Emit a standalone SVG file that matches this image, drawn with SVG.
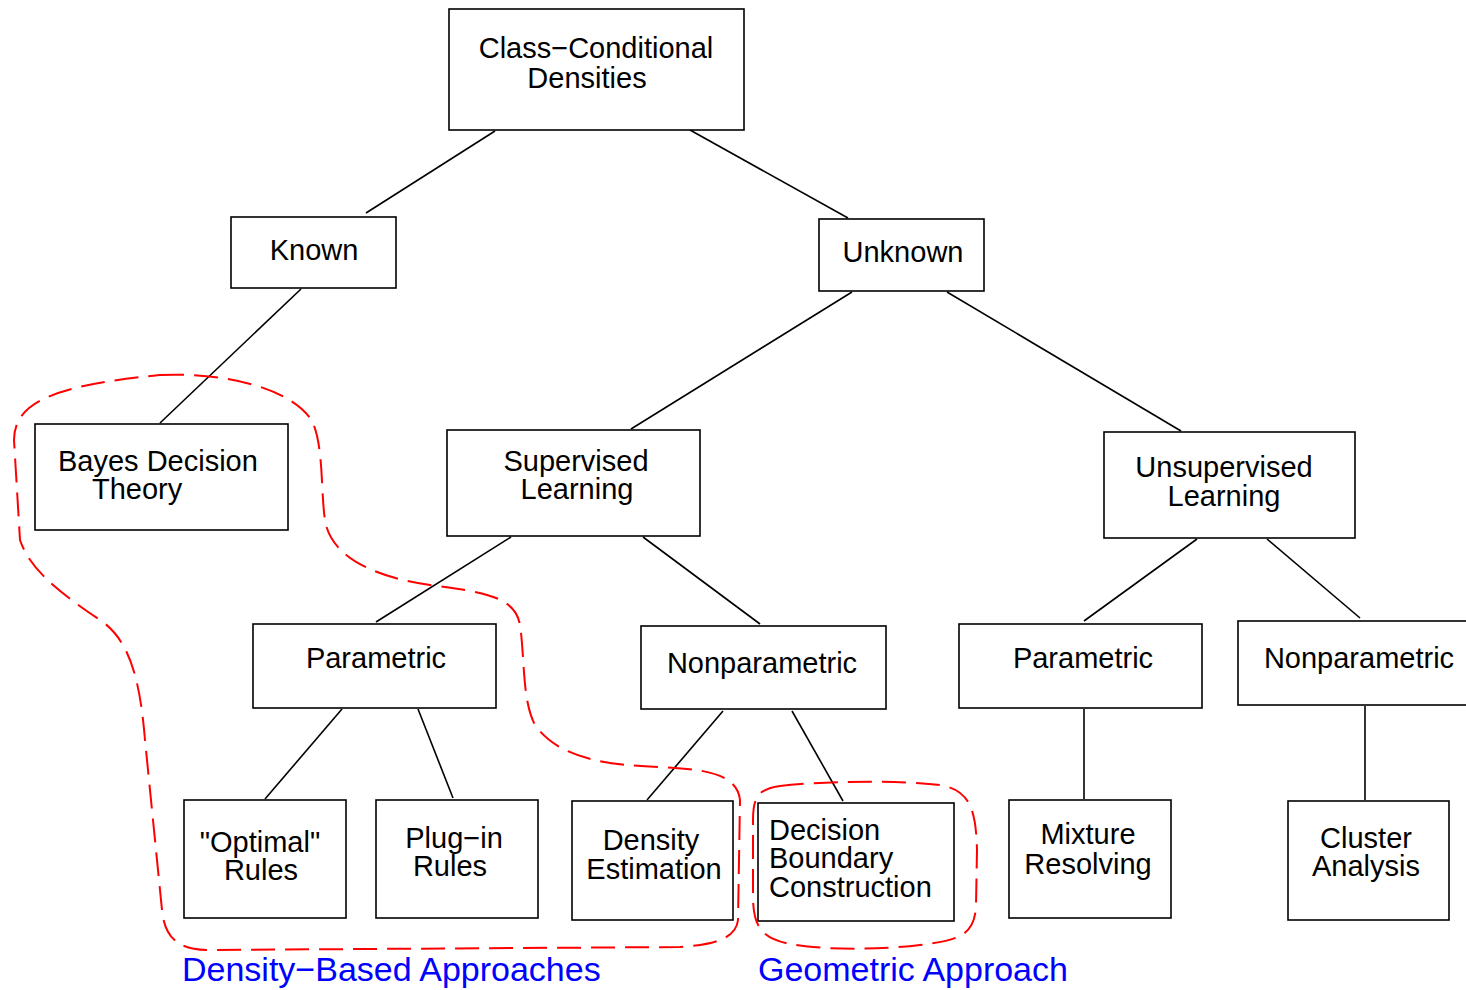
<svg xmlns="http://www.w3.org/2000/svg" width="1466" height="990" viewBox="0 0 1466 990">
<style>
.box{fill:#fff;stroke:#000;stroke-width:1.6}
.t{font-family:"Liberation Sans",Arial,sans-serif;font-size:29px;fill:#000;text-anchor:middle}
.ts{text-anchor:start}
.edge{stroke:#000;stroke-width:1.6;fill:none}
.grp{fill:none;stroke:#ff0000;stroke-width:2;stroke-dasharray:24,10}
.lbl{font-family:"Liberation Sans",Arial,sans-serif;font-size:34px;fill:#0000ff}
</style>
<rect width="1466" height="990" fill="#fff"/>
<g id="connectors">
<line class="edge" x1="495" y1="131" x2="366" y2="213"/>
<line class="edge" x1="690" y1="130" x2="848" y2="218"/>
<line class="edge" x1="301" y1="289" x2="160" y2="423"/>
<line class="edge" x1="852" y1="292" x2="631" y2="429"/>
<line class="edge" x1="947" y1="292" x2="1181" y2="431"/>
<line class="edge" x1="511" y1="537" x2="376" y2="622"/>
<line class="edge" x1="643" y1="537" x2="760" y2="624"/>
<line class="edge" x1="342" y1="709" x2="265" y2="799"/>
<line class="edge" x1="418" y1="709" x2="453" y2="798"/>
<line class="edge" x1="723" y1="711" x2="647" y2="800"/>
<line class="edge" x1="792" y1="711" x2="843" y2="801"/>
<line class="edge" x1="1197" y1="539" x2="1084" y2="621"/>
<line class="edge" x1="1267" y1="539" x2="1360" y2="618"/>
<line class="edge" x1="1084" y1="709" x2="1084" y2="799"/>
<line class="edge" x1="1365" y1="706" x2="1365" y2="800"/>
</g>
<g id="n-ccd"><rect class="box" x="449" y="9" width="295" height="121"/><text class="t" x="596" y="58">Class−Conditional</text><text class="t" x="587" y="88">Densities</text></g>
<g id="n-known"><rect class="box" x="231" y="217" width="165" height="71"/><text class="t" x="314" y="260">Known</text></g>
<g id="n-unknown"><rect class="box" x="819" y="219" width="165" height="72"/><text class="t" x="903" y="262">Unknown</text></g>
<g id="n-bayes"><rect class="box" x="35" y="424" width="253" height="106"/><text class="t ts" x="58" y="471">Bayes Decision</text><text class="t ts" x="92" y="499">Theory</text></g>
<g id="n-supervised"><rect class="box" x="447" y="430" width="253" height="106"/><text class="t" x="576" y="471">Supervised</text><text class="t" x="577" y="499">Learning</text></g>
<g id="n-unsupervised"><rect class="box" x="1104" y="432" width="251" height="106"/><text class="t" x="1224" y="477">Unsupervised</text><text class="t" x="1224" y="506">Learning</text></g>
<g id="n-param-l"><rect class="box" x="253" y="624" width="243" height="84"/><text class="t" x="376" y="668">Parametric</text></g>
<g id="n-nonparam-m"><rect class="box" x="641" y="626" width="245" height="83"/><text class="t" x="762" y="673">Nonparametric</text></g>
<g id="n-param-r"><rect class="box" x="959" y="624" width="243" height="84"/><text class="t" x="1083" y="668">Parametric</text></g>
<g id="n-nonparam-r"><rect class="box" x="1238" y="621" width="232" height="84"/><text class="t" x="1359" y="668">Nonparametric</text></g>
<g id="n-optimal"><rect class="box" x="184" y="800" width="162" height="118"/><text class="t" x="260" y="852">"Optimal"</text><text class="t" x="261" y="880">Rules</text></g>
<g id="n-plugin"><rect class="box" x="376" y="800" width="162" height="118"/><text class="t" x="454" y="848">Plug−in</text><text class="t" x="450" y="876">Rules</text></g>
<g id="n-density"><rect class="box" x="572" y="801" width="161" height="119"/><text class="t" x="651" y="850">Density</text><text class="t" x="654" y="879">Estimation</text></g>
<g id="n-decision"><rect class="box" x="758" y="803" width="196" height="118"/><text class="t ts" x="769" y="840">Decision</text><text class="t ts" x="769" y="868">Boundary</text><text class="t ts" x="769" y="897">Construction</text></g>
<g id="n-mixture"><rect class="box" x="1009" y="800" width="162" height="118"/><text class="t" x="1088" y="844">Mixture</text><text class="t" x="1088" y="874">Resolving</text></g>
<g id="n-cluster"><rect class="box" x="1288" y="801" width="161" height="119"/><text class="t" x="1366" y="848">Cluster</text><text class="t" x="1366" y="876">Analysis</text></g>
<g id="groups">
<path class="grp" d="M 160 375 C 230 372, 290 390, 310 418 C 325 440, 320 500, 326 525 C 335 560, 380 578, 430 585 C 480 592, 515 595, 520 625 C 525 660, 522 700, 535 725 C 560 760, 610 765, 660 767 C 700 769, 737 772, 740 800 L 738 920 C 736 940, 710 945, 680 947 L 210 950 C 180 950, 165 940, 162 910 L 145 740 C 140 680, 130 640, 100 620 C 60 593, 30 570, 20 540 L 14 440 C 14 400, 60 385, 160 375 Z"/>
<path class="grp" d="M 780 786 C 820 781, 900 780, 940 785 C 970 790, 976 810, 977 850 L 976 905 C 975 935, 960 940, 920 945 C 880 950, 820 950, 790 944 C 760 938, 754 925, 753 900 L 753 820 C 753 795, 760 789, 780 786 Z"/>
<text class="lbl" x="182" y="981">Density−Based Approaches</text>
<text class="lbl" x="758" y="981">Geometric Approach</text>
</g>
</svg>
